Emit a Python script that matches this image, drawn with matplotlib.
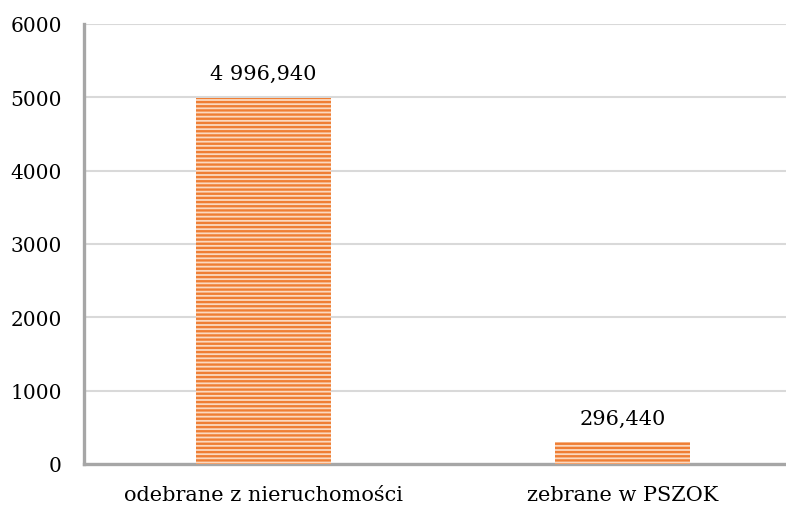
import matplotlib
matplotlib.use("Agg")
import matplotlib.pyplot as plt

categories = ["odebrane z nieruchomości", "zebrane w PSZOK"]
values = [4996.940, 296.440]
value_labels = ["4 996,940", "296,440"]
yticks = [0, 1000, 2000, 3000, 4000, 5000, 6000]

plt.rcParams['font.family'] = ['DejaVu Serif']
plt.rcParams['hatch.linewidth'] = 1.7

fig = plt.figure(figsize=(7.86, 5.06), dpi=100)
ax = fig.add_axes([84 / 786, 1 - 465 / 506, (786 - 84) / 786, 440 / 506])

x = list(range(len(categories)))
ax.bar(x, values, width=0.376, color='#FBD9C0', edgecolor='#EF7E34',
       linewidth=0, hatch='----', zorder=3)

for xi, v, lab in zip(x, values, value_labels):
    ax.text(xi, v + 200, lab, ha='center', va='bottom', fontsize=15, color='black')

ax.set_xlim(-0.5, (786 - 84) / 359 - 0.5)
ax.set_ylim(0, 6000)
ax.set_yticks(yticks)
ax.set_yticklabels([str(t) for t in yticks], fontsize=14.5)
ax.set_xticks(x)
ax.set_xticklabels(categories, fontsize=15)
ax.tick_params(axis='y', length=0, pad=16)
ax.tick_params(axis='x', length=0, pad=15)

ax.grid(axis='y', color='#D9D9D9', linewidth=1.5, zorder=0)
ax.set_axisbelow(True)
for s in ['top', 'right']:
    ax.spines[s].set_visible(False)
for s in ['left', 'bottom']:
    ax.spines[s].set_color('#A6A6A6')
    ax.spines[s].set_linewidth(2.4)

fig.savefig("out.png", dpi=100)
